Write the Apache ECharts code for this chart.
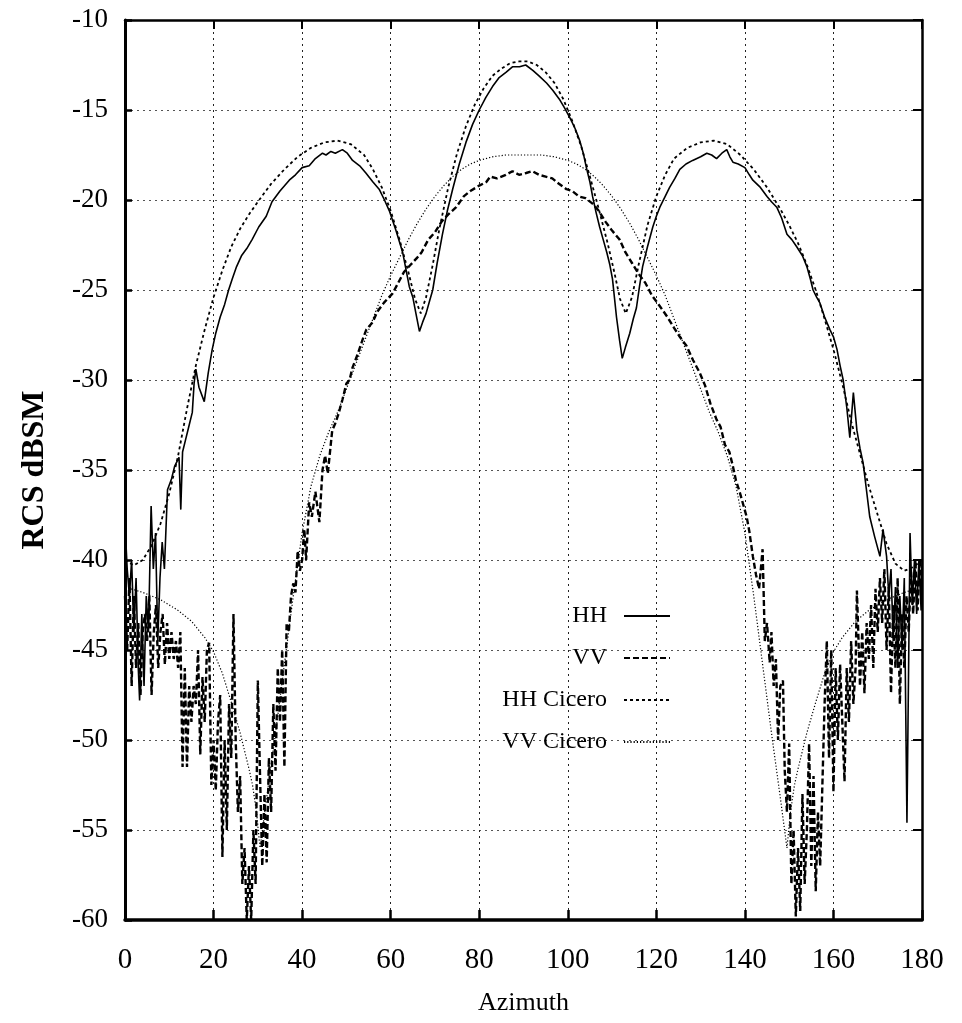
<!DOCTYPE html>
<html>
<head>
<meta charset="utf-8">
<script src="https://cdn.jsdelivr.net/npm/echarts@6/dist/echarts.min.js"></script>
<style>
html,body{margin:0;padding:0;background:#fff;}
#chart{width:962px;height:1023px;}
</style>
</head>
<body>
<div id="chart"></div>
<script>
// ---- Data: [azimuth (deg), RCS (dBsm)] ----
const hhData = [
[0,-38],[0.5,-40.5],[1,-42],[1.5,-40],[2,-44],[2.5,-41],[3,-46],[3.3,-47.8],[3.8,-43],[4.3,-47],[4.8,-42],[5.3,-44],[5.9,-37],[6.4,-40.5],[6.9,-38.5],[7.4,-44.5],[7.9,-41],[8.4,-39],[8.9,-40.5],[9.6,-36.1],[10.5,-35.5],[11.2,-34.8],[12.2,-34.3],[12.6,-37.2],[13,-34],[13.7,-33.3],[14.4,-32.6],[15.2,-31.8],[15.6,-30.2],[16,-29.4],[16.7,-30.4],[17.9,-31.2],[18.8,-29.6],[19.7,-28.3],[20.5,-27.4],[21.5,-26.5],[22.5,-25.8],[23.4,-25],[24.2,-24.4],[25.2,-23.7],[26.3,-23.1],[27.5,-22.7],[28.7,-22.2],[30.2,-21.5],[31.9,-20.9],[33.2,-20.1],[35,-19.5],[37.1,-18.9],[38.5,-18.6],[40,-18.2],[41.6,-18.1],[43,-17.7],[44.6,-17.4],[45.4,-17.5],[46.5,-17.3],[47.5,-17.4],[49.1,-17.2],[50.2,-17.4],[51.4,-17.8],[53,-18.1],[54.4,-18.5],[56,-19],[57.4,-19.4],[58.6,-20],[59.7,-20.6],[61.2,-21.7],[62.7,-22.9],[64.2,-24.8],[65,-25.4],[65.7,-26.3],[66.5,-27.3],[67.2,-26.8],[68,-26.3],[68.8,-25.6],[69.5,-25],[70.5,-23.5],[71.7,-21.9],[72.8,-20.6],[74,-19.4],[75.5,-18],[77,-16.8],[78.5,-15.8],[80,-15],[81.5,-14.3],[83,-13.7],[84.5,-13.2],[86.1,-12.9],[87.5,-12.6],[89.1,-12.6],[90.5,-12.5],[92.1,-12.8],[93.5,-13.1],[95.2,-13.5],[96.6,-13.9],[98.1,-14.4],[99.3,-14.9],[100.4,-15.4],[101.6,-16],[102.7,-16.7],[103.5,-17.4],[104.2,-18.2],[105,-19],[105.6,-19.8],[106.4,-20.7],[107.2,-21.5],[108,-22.2],[108.8,-22.9],[109.5,-23.6],[110.1,-24.4],[111,-26.5],[111.7,-27.8],[112.3,-28.8],[113,-28.2],[114,-27.4],[114.8,-26.6],[115.5,-26],[116.2,-24.8],[116.9,-23.7],[118,-22.6],[119.2,-21.5],[120,-20.9],[120.8,-20.4],[122,-19.8],[123,-19.3],[124.2,-18.8],[125.3,-18.3],[126.7,-18],[128.2,-17.8],[130,-17.6],[131.4,-17.4],[132.5,-17.5],[133.6,-17.7],[134.8,-17.4],[135.9,-17.2],[136.6,-17.6],[137.3,-17.9],[138.5,-18],[140,-18.2],[141,-18.6],[141.8,-18.9],[143.5,-19.3],[145,-19.8],[146,-20.1],[147.2,-20.4],[148.3,-21],[149.5,-21.9],[150.6,-22.2],[151.7,-22.6],[153,-23.1],[154,-23.7],[154.8,-24.4],[155.4,-25],[156.2,-25.4],[156.9,-25.7],[158,-26.5],[159.2,-27.2],[160,-27.6],[160.8,-28.3],[161.5,-29.2],[162.2,-30],[163,-31.5],[163.7,-33.2],[164.5,-30.7],[165.3,-32.8],[166,-33.8],[166.7,-34.6],[167.4,-36],[168.2,-37.6],[169.3,-38.7],[170.5,-39.8],[171.2,-38.3],[172,-39.8],[172.5,-42],[173,-40.5],[173.5,-44.5],[174,-41.5],[174.5,-46],[175,-42],[175.5,-45],[176,-41],[176.6,-54.6],[177.3,-38.5],[177.8,-42.5],[178.3,-40],[178.8,-43],[179.3,-40],[179.8,-42.8],[180,-40]
];
const vvData = [
[0,-42],[0.5,-45],[1,-41],[1.5,-47],[2,-42],[2.5,-46],[3,-43.5],[3.5,-47.5],[4,-44],[4.5,-43],[5,-44.5],[5.5,-42],[6,-47.5],[6.5,-44],[7,-42.5],[7.5,-46],[8,-44],[8.5,-43],[9,-45.8],[9.5,-43.5],[10,-45.5],[10.5,-44],[11,-45.5],[11.5,-44.5],[12,-46],[12.5,-44],[13,-51.5],[13.5,-46],[14,-51.5],[14.5,-47],[15,-49],[15.5,-47],[16,-48],[16.5,-45],[17,-50.8],[17.5,-46.5],[18,-49],[18.5,-45],[19,-44.6],[19.5,-52.5],[20,-50],[20.5,-52.8],[21,-49],[21.5,-47.5],[22,-56.5],[22.5,-50],[23,-55],[23.5,-48],[24,-51],[24.5,-43],[25,-50],[25.5,-54],[26,-52],[26.5,-58],[27,-56],[27.5,-60],[28,-57],[28.5,-60],[29,-55],[29.5,-58],[30,-46.7],[30.5,-52],[31,-57],[31.5,-53],[32,-56.8],[32.5,-51],[33,-54],[33.5,-48],[34,-51.7],[34.5,-46],[35,-49],[35.5,-45],[36,-51.5],[36.5,-43.5],[37,-44],[37.5,-42],[38,-41.3],[38.5,-41.8],[39,-39.5],[39.5,-40.6],[40,-40],[40.5,-38.3],[40.9,-40],[41.6,-36.8],[42.2,-37.6],[43,-36.2],[43.9,-37.9],[44.6,-35],[45.2,-34.2],[45.8,-35.2],[46.8,-32.8],[47.5,-32.4],[48.2,-31.9],[49.1,-31.1],[50,-30.2],[50.7,-30],[51.4,-29.3],[52.5,-28.6],[53.6,-27.8],[54.5,-27.2],[55.9,-26.8],[57,-26.2],[58.5,-25.7],[60.4,-25.2],[61.5,-24.7],[63,-24],[64.5,-23.6],[66,-23.2],[67,-22.9],[68.5,-22.2],[70,-21.8],[71.5,-21.2],[73,-20.8],[74.8,-20.4],[76.5,-19.8],[78,-19.5],[80,-19.2],[81.6,-19],[82.5,-18.7],[84,-18.8],[86,-18.6],[87.5,-18.4],[89,-18.6],[90.6,-18.5],[92,-18.4],[93.5,-18.6],[95,-18.7],[96.5,-18.8],[98,-19.1],[99.7,-19.4],[101,-19.5],[102.5,-19.8],[104,-19.9],[105.6,-20.2],[107,-20.6],[108.5,-21.2],[110,-21.7],[111.7,-22.2],[113,-22.9],[114.5,-23.5],[116,-24.1],[117.5,-24.6],[119,-25.3],[120.8,-25.9],[122.5,-26.5],[124,-27.1],[125.3,-27.6],[126.8,-28.1],[128.3,-28.9],[129.8,-29.6],[131,-30.3],[132.2,-31.3],[133.6,-32.2],[134.5,-32.6],[135.5,-33.6],[136.5,-34],[137.3,-34.8],[138,-35.6],[138.8,-36.2],[139.6,-36.9],[140.4,-37.6],[141,-38.4],[141.8,-39.8],[142.5,-40.8],[143.2,-41.6],[144,-39.4],[144.5,-44.5],[145,-43.5],[145.6,-45.7],[146,-44],[146.5,-47],[147,-45.5],[147.5,-50],[148,-47],[148.6,-46.7],[149,-51.7],[149.5,-54],[150,-50.2],[150.5,-58],[151,-55],[151.5,-59.8],[152,-56],[152.5,-59.5],[153,-53],[153.5,-58],[154,-55],[154.5,-50.2],[155,-57],[155.5,-52],[156,-58.4],[156.5,-54],[157,-57],[157.5,-52.5],[158,-48],[158.5,-44.5],[159,-51],[159.5,-45],[160,-52.9],[160.5,-46],[161,-50],[161.5,-45.8],[162,-49],[162.5,-52.3],[163,-46],[163.5,-49],[164,-44.5],[164.5,-48],[165,-46],[165.3,-41.7],[166,-47],[166.5,-44],[167,-47.4],[167.5,-43.5],[168,-45.5],[168.5,-42.5],[169,-46],[169.5,-41.6],[170,-44],[170.5,-41],[171,-43.5],[171.5,-40.5],[172,-45],[172.5,-41.5],[173,-47.4],[173.5,-42.5],[174,-46],[174.5,-41],[175,-48],[175.5,-43],[176,-46],[176.5,-42],[177,-44],[177.5,-40.5],[178,-43],[178.5,-40],[179,-42.8],[179.5,-40],[180,-42]
];
const hhCiceroData = [
[0,-40],[2,-40.3],[4,-40],[6,-39.2],[8,-38],[10,-36.3],[12,-34.2],[14,-31.6],[16,-29.2],[18,-27.2],[20,-25.4],[22,-23.9],[24,-22.6],[26,-21.6],[28,-20.8],[30,-20.1],[33,-19.1],[36,-18.3],[39,-17.6],[42,-17.1],[45,-16.8],[48,-16.7],[51,-16.9],[54,-17.5],[56,-18.3],[58,-19.3],[60,-20.6],[62,-22.2],[64,-24],[65.5,-25.5],[66.8,-26.3],[68,-25.4],[69.5,-23.6],[71,-21.6],[73,-19.3],[75,-17.4],[77,-15.9],[79,-14.7],[81,-13.8],[83,-13.1],[85,-12.7],[87,-12.4],[89,-12.3],[91,-12.3],[93,-12.5],[95,-12.9],[97,-13.5],[99,-14.4],[101,-15.6],[103,-17],[105,-18.7],[107,-20.5],[109,-22.4],[110.5,-24],[111.8,-25.5],[113.1,-26.3],[114.5,-25.4],[116,-23.6],[118,-21.4],[120,-19.8],[122,-18.6],[124,-17.7],[127,-17.1],[130,-16.8],[133,-16.7],[136,-16.9],[139,-17.5],[142,-18.3],[145,-19.3],[148,-20.5],[150,-21.4],[152,-22.4],[154,-23.6],[156,-25],[158,-26.6],[160,-28.3],[162,-30.2],[164,-32.3],[166,-34.1],[168,-35.9],[170,-37.5],[172,-39.1],[174,-40.2],[176,-40.6],[178,-40.4],[180,-40]
];
const vvCiceroData = [
[0,-41.5],[4,-41.8],[8,-42.2],[12,-42.8],[15,-43.4],[18,-44.3],[20,-45.1],[22,-46.3],[24,-47.9],[26,-49.6],[28,-51.6],[28.8,-52.5],[29.7,-54],[30.5,-56],[32,-53.2],[34,-49.6],[36,-45.8],[38,-42],[40,-38.5],[42,-35.9],[44,-34.2],[46,-32.9],[48,-31.8],[50,-30.5],[52,-29.2],[54,-27.9],[56,-26.6],[58,-25.3],[60,-24.2],[62,-23.2],[64,-22.2],[66,-21.3],[68,-20.5],[70,-19.8],[72,-19.2],[74,-18.7],[76,-18.3],[78,-18],[80,-17.8],[83,-17.6],[86,-17.5],[89,-17.5],[92,-17.5],[94,-17.5],[97,-17.6],[100,-17.8],[102,-18],[104,-18.3],[106,-18.7],[108,-19.2],[110,-19.8],[112,-20.5],[114,-21.3],[116,-22.2],[118,-23.2],[120,-24.2],[122,-25.3],[124,-26.6],[126,-27.9],[128,-29.2],[130,-30.5],[132,-31.8],[134,-32.9],[136,-34.2],[138,-35.9],[140,-38.5],[142,-42],[144,-45.8],[146,-49.6],[148,-53.2],[149.5,-56],[150.3,-54],[151.2,-52.5],[152,-51.6],[154,-49.6],[156,-47.9],[158,-46.3],[160,-45.1],[162,-44.3],[165,-43.4],[168,-42.8],[172,-42.2],[176,-41.8],[180,-41.5]
];
const seriesNames = ['HH', 'VV', 'HH Cicero', 'VV Cicero'];
const xMin = 0, xMax = 180, xStep = 20;
const yMin = -60, yMax = -10, yStep = 5;

const FONT = 'Liberation Serif';
const chart = echarts.init(document.getElementById('chart'), null, {renderer: 'canvas'});

function frameAxis(pos, isX) {
  return {
    type: 'value', position: pos,
    min: isX ? xMin : yMin, max: isX ? xMax : yMax, interval: isX ? xStep : yStep,
    axisLine: {show: true, onZero: false, lineStyle: {color: '#000', width: 2.5}},
    axisTick: {show: true, inside: true, length: 9, lineStyle: {color: '#000', width: 2}},
    axisLabel: {show: false},
    splitLine: {show: false}
  };
}

function lineSeries(idx, data, width, type, z) {
  return {
    name: seriesNames[idx], type: 'line', data: data,
    symbol: 'none', showSymbol: false, color: '#000',
    itemStyle: {color: '#000', opacity: 0},
    lineStyle: {color: '#000', width: width, type: type},
    z: z
  };
}

const option = {
  animation: false,
  backgroundColor: '#fff',
  color: ['#000', '#000', '#000', '#000'],
  grid: {left: 125, right: 40, top: 20, bottom: 103, containLabel: false},
  xAxis: [
    {
      type: 'value', position: 'bottom', min: xMin, max: xMax, interval: xStep,
      name: 'Azimuth', nameLocation: 'middle', nameGap: 70,
      nameTextStyle: {fontFamily: FONT, fontSize: 26, color: '#000'},
      axisLine: {show: true, onZero: false, lineStyle: {color: '#000', width: 3.5}},
      axisTick: {show: true, inside: true, length: 10, lineStyle: {color: '#000', width: 2.5}},
      axisLabel: {margin: 26, fontFamily: FONT, fontSize: 29, color: '#000'},
      splitLine: {show: true, lineStyle: {color: '#222', width: 1, type: [2, 4]}}
    },
    frameAxis('top', true)
  ],
  yAxis: [
    {
      type: 'value', position: 'left', min: yMin, max: yMax, interval: yStep,
      name: 'RCS dBSM', nameLocation: 'middle', nameGap: 74, nameRotate: 90,
      nameTextStyle: {fontFamily: FONT, fontSize: 32, fontWeight: 'bold', color: '#000'},
      axisLine: {show: true, onZero: false, lineStyle: {color: '#000', width: 3}},
      axisTick: {show: true, inside: true, length: 7, lineStyle: {color: '#000', width: 2.5}},
      axisLabel: {margin: 17, fontFamily: FONT, fontSize: 27, color: '#000'},
      splitLine: {show: true, lineStyle: {color: '#555', width: 1, type: [2, 4]}}
    },
    frameAxis('right', false)
  ],
  legend: {
    orient: 'vertical', align: 'right',
    right: 286, top: 599,
    itemWidth: 46, itemHeight: 12, itemGap: 18,
    itemStyle: {opacity: 0, borderWidth: 0},
    textStyle: {fontFamily: FONT, fontSize: 24, color: '#000', padding: [0, 12, 0, 0]},
    data: seriesNames
  },
  series: [
    lineSeries(0, hhData, 1.6, 'solid', 5),
    lineSeries(1, vvData, 2.4, [6, 3], 4),
    lineSeries(2, hhCiceroData, 1.8, [3, 3], 3),
    lineSeries(3, vvCiceroData, 1.2, [1.2, 2], 3)
  ]
};
chart.setOption(option);
</script>
</body>
</html>
